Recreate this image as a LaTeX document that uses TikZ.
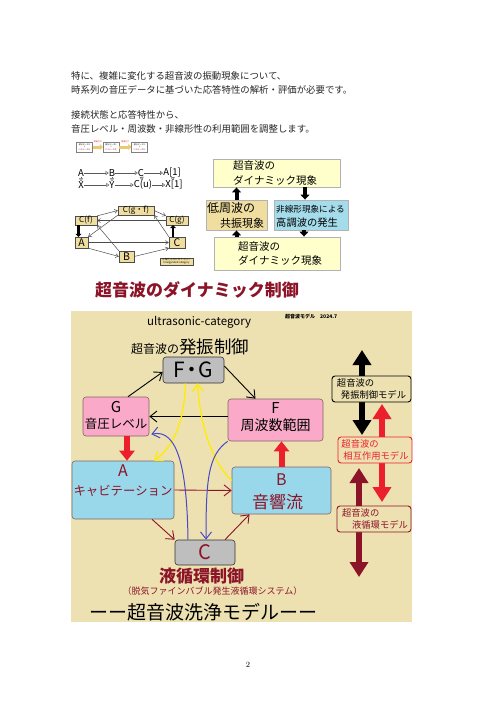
\documentclass[tikz,border=0pt]{standalone}
\usepackage{fontspec}
\newfontfamily\jp{Noto Sans CJK JP}
\usetikzlibrary{arrows.meta}
\newcommand\fz[1]{\fontsize{#1}{#1}\selectfont}
\definecolor{panel}{RGB}{237,225,178}
\definecolor{pinkbox}{RGB}{250,170,200}
\definecolor{bluebox}{RGB}{152,216,234}
\definecolor{graybox}{RGB}{190,190,190}
\definecolor{edge}{RGB}{130,100,100}
\definecolor{dred}{RGB}{140,20,40}
\definecolor{hired}{RGB}{236,32,44}
\definecolor{yline}{RGB}{255,236,0}
\definecolor{bline}{RGB}{72,72,200}
\definecolor{ktan}{RGB}{240,222,160}
\definecolor{lyel}{RGB}{255,255,204}
\definecolor{lblu}{RGB}{165,220,235}
\definecolor{sand}{RGB}{236,200,110}

\begin{document}
\begin{tikzpicture}[x=1pt, y=-1pt,
    jt/.style={font={\jp\fz{#1}}, inner sep=0pt},
    jt/.default=9.4,
    tbox/.style={draw=gray, line width=0.3pt, fill=white, inner sep=0pt,
                 minimum width=16, minimum height=10, align=center,
                 font={\jp\fontsize{2}{2.6}\selectfont}},
    kbox/.style={draw=gray!60!black, line width=0.3pt, fill=ktan, inner sep=0pt},
    rbox/.style={draw=gray!60, line width=0.9pt, inner sep=0pt},
    mbox/.style={draw=edge, line width=0.6pt, rounded corners=3pt, inner sep=0pt},
    hollow/.style={gray!70!black, line width=0.5pt, -{Triangle[open, length=3pt, width=4pt]}},
    garr/.style={gray!60!black, line width=0.5pt, -{Straight Barb[length=3pt, width=4pt]}},
    karr/.style={line width=2.5pt, -{Triangle[length=3pt, width=6pt]}},
    fatk/.style={line width=4pt, -{Triangle[length=5pt, width=9pt]}},
    barb/.style={line width=0.9pt, -{Straight Barb[length=7pt, width=11pt]}},
    fat/.style={line width=6pt, -{Triangle[length=10pt, width=15pt]}},
    twin/.style={line width=6pt, {Triangle[length=15pt, width=18pt]}-{Triangle[length=15pt, width=18pt]}},
    model/.style={draw, line width=0.9pt, rounded corners=3pt, fill=panel, inner sep=0pt,
                  align=left, font={\jp\fontsize{9.3}{12}\selectfont}}
    ]
    \useasboundingbox (0,0) rectangle (496,701);

    \node[jt, anchor=west, text=black!85] (t1) at (71,76) {特に、複雑に変化する超音波の振動現象について、};
    \node[jt, anchor=west, text=black!85] (t2) at (71,90) {時系列の音圧データに基づいた応答特性の解析・評価が必要です。};
    \node[jt, anchor=west, text=black!85] (t3) at (71,115) {接続状態と応答特性から、};
    \node[jt, anchor=west, text=black!85] (t4) at (71,129) {音圧レベル・周波数・非線形性の利用範囲を調整します。};

    % small category picture
    \node[tbox] (d1) at (84.5,147) {部分データ1\\↓\\{\color{dred}パラメータ化}};
    \node[tbox] (d2) at (111,147) {部分データ2\\↓\\{\color{dred}パラメータ化}};
    \node[tbox] (d3) at (139.5,147) {部分データ3\\↓\\{\color{dred}パラメータ化}};
    \draw[sand, line width=3pt, -{Triangle[length=3pt, width=6pt]}] (d1) -- (d2)
        node[midway, above=3pt, jt=2, text=hired] (e1) {関連付け};
    \draw[sand, line width=3pt, -{Triangle[length=3pt, width=6pt]}] (d2) -- (d3)
        node[midway, above=3pt, jt=2, text=hired] (e2) {関連付け};

    \node[jt=9.5] (ra) at (81,173) {A};
    \node[jt=9.5] (rb) at (112,173) {B};
    \node[jt=9.5] (rc) at (141,173) {C};
    \node[jt=9.5] (ra1) at (172,173) {A[1]};
    \node[jt=9.5] (rx) at (81,185) {X};
    \node[jt=9.5] (ry) at (112,185) {Y};
    \node[jt=9.5] (rcu) at (143,185) {C(u)};
    \node[jt=9.5] (rx1) at (174,185) {X[1]};
    \draw[hollow] (ra) -- (rb);
    \draw[hollow] (rb) -- (rc);
    \draw[hollow] (rc) -- (ra1);
    \draw[hollow] (rx) -- (ry);
    \draw[hollow] (ry) -- (rcu);
    \draw[hollow] (rcu) -- (rx1);
    \draw[hollow] (ra) -- (rx);
    \draw[hollow] (rb) -- (ry);
    \draw[hollow] (rc) -- (rcu);
    \draw[hollow] (ra1) -- (rx1);

    \node[kbox, minimum width=36, minimum height=9, font={\jp\fz{8}}] (cgf) at (136,210.5) {C(g・f)};
    \node[kbox, minimum width=22, minimum height=9, font={\jp\fz{8}}] (cf) at (86,220.5) {C(f)};
    \node[kbox, minimum width=22, minimum height=9, font={\jp\fz{8}}] (cg) at (177,220.5) {C(g)};
    \node[kbox, minimum width=13, minimum height=11, font={\jp\fz{10.5}}] (ka) at (81.5,242.5) {A};
    \node[kbox, minimum width=16, minimum height=11, font={\jp\fz{10.5}}] (kc) at (177,242.5) {C};
    \node[kbox, minimum width=15, minimum height=11, font={\jp\fz{10.5}}] (kb) at (126.5,256.5) {B};
    \node[kbox, minimum width=33, minimum height=7, align=center,
          font={\jp\fontsize{2.6}{3}\selectfont}] (kcap) at (176.5,261.5) {三角化されたカテゴリー\\triangulated category};
    \draw[karr] ([xshift=-3pt]ka.north |- cf.south) -- ([xshift=-3pt]ka.north);
    \draw[karr] ([xshift=-4pt]kc.north) -- ([xshift=-4pt]kc.north |- cg.south);
    \draw[garr] (cf.north east) -- (cgf.west);
    \draw[garr] (cgf.east) -- (cg.north west);
    \draw[garr] (cg.west) -- (cf.east);
    \draw[garr] (cgf.south west) -- (ka.north east);
    \draw[garr] (kc.north west) -- (cgf.south east);
    \draw[garr] (ka.east) -- (kc.west);
    \draw[garr] (ka.south east) -- (kb.west);
    \draw[garr] (kb.east) -- (kc.south west);
    \draw[garr] (kb.north west) -- (cf.south east);

    % dynamic phenomenon picture
    \node[rbox, fill=lyel, minimum width=127, minimum height=28] (rt) at (276.5,173) {};
    \node[jt=10.5, anchor=west] (rt1) at (233,166) {超音波の};
    \node[jt=10.5, anchor=west] (rt2) at (233,181) {ダイナミック現象};
    \node[rbox, fill=ktan, minimum width=61, minimum height=30] (rl) at (236.5,215) {};
    \node[jt=12, anchor=west] (rl1) at (207,208) {低周波の};
    \node[jt=11, anchor=west] (rl2) at (220,223) {共振現象};
    \node[rbox, fill=lblu, minimum width=74, minimum height=30] (rr) at (311,215) {};
    \node[jt=8.6, anchor=west] (rr1) at (276,209) {非線形現象による};
    \node[jt=10.3, anchor=west] (rr2) at (276,223) {高調波の発生};
    \node[rbox, fill=lyel, minimum width=126, minimum height=33] (rb) at (277,253.5) {};
    \node[jt=10.5, anchor=west] (rb1) at (238,247) {超音波の};
    \node[jt=10.5, anchor=west] (rb2) at (238,261) {ダイナミック現象};
    \draw[fatk] (rl.north) -- (rl.north |- rt.south);
    \draw[fatk] ([xshift=-6pt]rr.north |- rt.south) -- ([xshift=-6pt]rr.north);
    \draw[fatk] (rl.south |- rb.north) -- (rl.south);
    \draw[fatk] ([xshift=-7pt]rr.south) -- ([xshift=-7pt]rr.south |- rb.north);

    \node[jt=17, anchor=west, text=dred] (head) at (95,290) {\bfseries 超音波のダイナミック制御};

    % ultrasonic model
    \node[fill=panel, inner sep=0pt, minimum width=341, minimum height=311, anchor=north west] (bg) at (71,311) {};
    \node[jt=11.5, anchor=west] (cat) at (147,322) {ultrasonic-category};
    \node[jt=5, anchor=west] (ver) at (285,317) {\bfseries 超音波モデル\quad 2024.7};
    \node[anchor=west, inner sep=0pt] (osc) at (131,347) {\jp\fz{12}超音波の{\fz{17.5}発振制御}};

    \node[mbox, fill=graybox, draw=gray!40!black, minimum width=61, minimum height=26,
          font={\jp\fz{21}}] (fg) at (193.5,370) {F\kern-4pt・\kern-4pt G};
    \node[mbox, fill=pinkbox, minimum width=66, minimum height=39] (g) at (116,416.5) {};
    \node[jt=15] (gLbl) at (116,407) {G};
    \node[jt=12.5] (gTxt) at (116,424) {音圧レベル};
    \node[mbox, fill=pinkbox, minimum width=95, minimum height=42] (f) at (275.5,420) {};
    \node[jt=15] (fLbl) at (275.5,408) {F};
    \node[jt=14] (fTxt) at (275.5,425) {周波数範囲};
    \node[mbox, fill=bluebox, minimum width=102, minimum height=58] (a) at (123,490) {};
    \node[jt=16, text=dred] (aLbl) at (123,471) {A};
    \node[jt=12.4, text=dred] (aTxt) at (123,491) {キャビテーション};
    \node[mbox, fill=bluebox, minimum width=99, minimum height=47] (b) at (281.5,490.5) {};
    \node[jt=16, text=dred] (bLbl) at (281.5,480) {B};
    \node[jt=17, text=dred] (bTxt) at (277.5,502) {音響流};
    \node[mbox, fill=graybox, draw=gray!40!black, minimum width=60, minimum height=25,
          font={\jp\fz{20}}, text=dred] (c) at (205,552.5) {C};

    \draw[barb] ([xshift=12pt]g.north) -- ([yshift=-2pt]fg.west);
    \draw[barb] ([yshift=4pt]fg.east) -- ([xshift=-20pt]f.north);
    \draw[barb] (f.west |- g.east) -- (g.east);
    \draw[fat, hired] ([xshift=11pt]g.south) -- ([xshift=4pt]a.north);
    \draw[fat, hired] (b.north) -- (b.north |- f.south);
    \draw[barb, dred] (a.east) -- (b.west);
    \draw[barb, dred] ([xshift=29pt]a.south) -- (c.north west);
    \draw[barb, dred] ([xshift=20pt]c.north) -- ([xshift=-32pt]b.south);
    \draw[barb, yline, line width=1.3pt] ([xshift=-8pt]fg.south) .. controls (184,425) and (172,448) .. ([xshift=31pt]a.north);
    \draw[barb, yline, line width=1.3pt] ([yshift=10pt]b.west) .. controls (212,462) and (200,425) .. ([xshift=4pt]fg.south);
    \draw[barb, bline, line width=1pt] ([xshift=-17pt]c.north) .. controls (187,470) and (178,428) .. ([shift={(2pt,2pt)}]g.south east);
    \draw[barb, bline, line width=1pt] (f.south west) .. controls (208,455) and (206,480) .. ([xshift=1pt]c.north);

    \node[jt=17, text=dred] (loop) at (201.5,576) {\bfseries 液循環制御};
    \node[jt=9, text=dred] (sys) at (212.5,591) {（脱気ファインバブル発生液循環システム）};
    \node[jt=19] (wash) at (203.5,612) {ーー超音波洗浄モデルーー};

    \coordinate (k1) at (362,350);
    \coordinate (k2) at (362,435);
    \coordinate (r1) at (382,404);
    \coordinate (r2) at (382,502);
    \coordinate (q1) at (359,468);
    \coordinate (q2) at (359,577);
    \draw[twin, black] (k1) -- (k2);
    \draw[twin, hired] (r1) -- (r2);
    \draw[twin, dred] (q1) -- (q2);
    \node[model, minimum width=79, minimum height=26] (m1) at (371.5,389) {超音波の\\\hspace{4pt}発振制御モデル};
    \node[model, draw=hired, text=hired, minimum width=74, minimum height=26] (m2) at (375,450) {超音波の\\\hspace{2pt}相互作用モデル};
    \node[model, draw=dred, text=dred, minimum width=74, minimum height=26] (m3) at (374,519) {\hspace{2pt}超音波の\\\hspace{12pt}液循環モデル};

    \node[font=\fz{8}] (page) at (248,665) {2};
\end{tikzpicture}
\end{document}
